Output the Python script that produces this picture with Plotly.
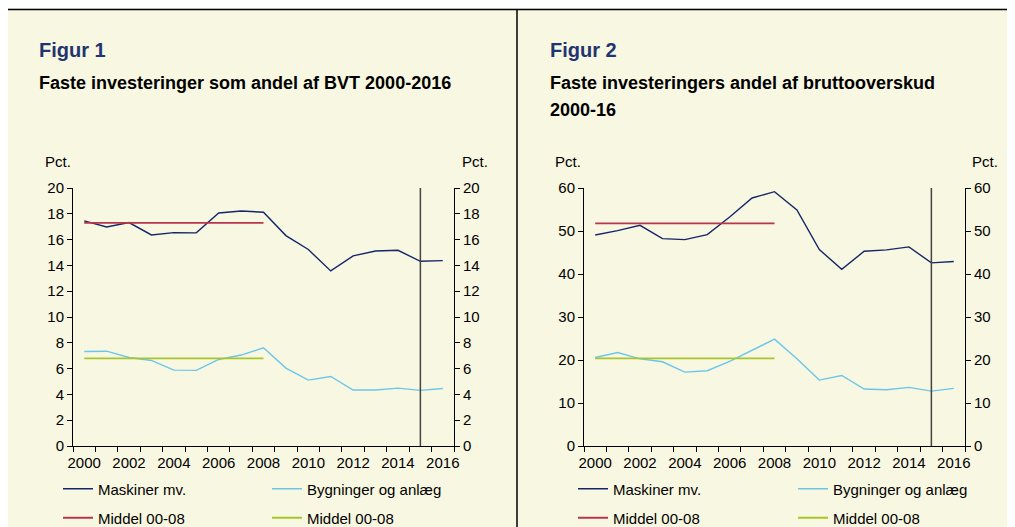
import plotly.graph_objects as go

W, H = 1030, 540

years = list(range(2000, 2017))
mid_years = list(range(2000, 2009))

# Figur 1: share of BVT (pct.)
f1_maskiner = [17.45, 16.98, 17.32, 16.36, 16.54, 16.52, 18.06, 18.22, 18.12,
               16.31, 15.23, 13.57, 14.74, 15.12, 15.17, 14.32, 14.37]
f1_bygninger = [7.33, 7.35, 6.86, 6.63, 5.88, 5.86, 6.71, 7.05, 7.61,
                6.04, 5.11, 5.39, 4.34, 4.34, 4.49, 4.31, 4.46]
f1_middel_mask = 17.29
f1_middel_byg = 6.79

# Figur 2: share of bruttooverskud (pct.)
f2_maskiner = [49.08, 50.09, 51.33, 48.23, 48.0, 49.16, 53.26, 57.68, 59.15,
               54.89, 45.68, 41.11, 45.29, 45.6, 46.3, 42.58, 42.89]
f2_bygninger = [20.59, 21.75, 20.28, 19.59, 17.19, 17.5, 19.66, 22.3, 24.85,
                20.28, 15.33, 16.41, 13.24, 13.08, 13.63, 12.77, 13.39]
f2_middel_mask = 51.79
f2_middel_byg = 20.36

xtick_vals = list(range(2000, 2017, 2))
xtick_text = [str(v) for v in xtick_vals]
f1_yticks = list(range(0, 21, 2))
f2_yticks = list(range(0, 61, 10))
marker_year = 2015

titles = [("Figur 1", ["Faste investeringer som andel af BVT 2000-2016"]),
          ("Figur 2", ["Faste investeringers andel af bruttooverskud", "2000-16"])]

names = ["Maskiner mv.", "Bygninger og anlæg", "Middel 00-08", "Middel 00-08"]

C_MASK = "#15266b"
C_BYG = "#6cc6ec"
C_RED = "#b8354a"
C_GREEN = "#a8c62a"
BG = "#f8f7e1"
FONT = "Liberation Sans, Arial, sans-serif"

OFF = 8  # page offset of the figure (body margin)

def px(x):
    return (x - OFF) / W

def py(y):
    return 1 - (y - OFF) / H

fig = go.Figure()

panels = [
    dict(x0=73, x1=454, mask=f1_maskiner, byg=f1_bygninger, mm=f1_middel_mask,
         mb=f1_middel_byg, yticks=f1_yticks, ymax=20, xa="x", ya="y", ya2="y2",
         leg_x=[58, 267], pct=[43, 460], tx=37),
    dict(x0=584, x1=965, mask=f2_maskiner, byg=f2_bygninger, mm=f2_middel_mask,
         mb=f2_middel_byg, yticks=f2_yticks, ymax=60, xa="x2", ya="y3", ya2="y4",
         leg_x=[573, 793], pct=[553, 970], tx=548),
]

ydom = [py(446), py(188)]
legend_rows = [489, 518]
legend_layouts = {}
li = 0
for pi, p in enumerate(panels):
    series = [
        (years, p["mask"], C_MASK, 1.4),
        (years, p["byg"], C_BYG, 1.4),
        (mid_years, [p["mm"]] * len(mid_years), C_RED, 1.8),
        (mid_years, [p["mb"]] * len(mid_years), C_GREEN, 1.8),
    ]
    for si, (xs, ys, col, lw) in enumerate(series):
        li += 1
        lname = "legend" if li == 1 else f"legend{li}"
        fig.add_trace(go.Scatter(x=xs, y=ys, mode="lines", name=names[si],
                                 line=dict(color=col, width=lw),
                                 xaxis=p["xa"], yaxis=p["ya"], legend=lname,
                                 showlegend=True))
        col_i = si % 2
        row_i = si // 2
        legend_layouts[lname] = dict(
            x=px(p["leg_x"][col_i]), y=py(legend_rows[row_i]),
            xanchor="left", yanchor="middle", bgcolor="rgba(0,0,0,0)",
            font=dict(family=FONT, size=15, color="#000000"),
            itemwidth=30)
    # invisible trace for the right axis
    fig.add_trace(go.Scatter(x=years, y=p["mask"], mode="lines", opacity=0,
                             showlegend=False, hoverinfo="skip",
                             xaxis=p["xa"], yaxis=p["ya2"]))
    # vertical marker
    fig.add_shape(type="line", xref=p["xa"], yref=f"{p['ya']} domain",
                  x0=marker_year, x1=marker_year, y0=0, y1=1,
                  line=dict(color="#444444", width=1.5))

axis_common = dict(showgrid=False, zeroline=False, showline=True,
                   linecolor="#000000", linewidth=1,
                   tickfont=dict(family=FONT, size=15, color="#000000"))

layout = dict(
    width=W, height=H,
    margin=dict(l=0, r=0, t=0, b=0, autoexpand=False),
    paper_bgcolor=BG, plot_bgcolor="rgba(0,0,0,0)",
    font=dict(family=FONT, size=15, color="#000000"),
    showlegend=True,
)
for pi, p in enumerate(panels):
    xkey = "xaxis" if p["xa"] == "x" else "xaxis2"
    layout[xkey] = dict(
        domain=[px(p["x0"]), px(p["x1"])], range=[1999.5, 2016.5],
        anchor=p["ya"], tickmode="array", tickvals=xtick_vals, ticktext=xtick_text,
        ticks="", ticklabelstandoff=3,
        minor=dict(tickmode="linear", tick0=1999.5, dtick=1,
                   ticks="outside", ticklen=5, tickcolor="#000000",
                   showgrid=False),
        **axis_common)
    ya_key = "yaxis" if p["ya"] == "y" else "yaxis3"
    ya2_key = "yaxis2" if p["ya2"] == "y2" else "yaxis4"
    layout[ya_key] = dict(domain=ydom, range=[0, p["ymax"]], anchor=p["xa"],
                          tickmode="array", tickvals=p["yticks"], ticks="outside",
                          ticklen=5, tickcolor="#000000", **axis_common)
    layout[ya2_key] = dict(domain=ydom, range=[0, p["ymax"]], anchor=p["xa"],
                           overlaying=p["ya"], side="right",
                           tickmode="array", tickvals=p["yticks"], ticks="outside",
                           ticklen=5, tickcolor="#000000", **axis_common)
layout.update(legend_layouts)
fig.update_layout(**layout)

# borders
fig.add_shape(type="line", xref="paper", yref="paper", x0=0, x1=1,
              y0=py(9.5), y1=py(9.5), line=dict(color="#000000", width=1.5))
fig.add_shape(type="line", xref="paper", yref="paper", x0=px(517), x1=px(517),
              y0=0, y1=py(9.5), line=dict(color="#000000", width=1.5))

# titles
for pi, p in enumerate(panels):
    fig_label, sub_lines = titles[pi]
    fig.add_annotation(xref="paper", yref="paper", x=px(p["tx"]), y=py(50),
                       xanchor="left", yanchor="middle", showarrow=False,
                       text=f"<b>{fig_label}</b>",
                       font=dict(family=FONT, size=20, color="#1f3470"))
    for k, line in enumerate(sub_lines):
        fig.add_annotation(xref="paper", yref="paper", x=px(p["tx"]),
                           y=py(83 + 27 * k), xanchor="left", yanchor="middle",
                           showarrow=False, text=f"<b>{line}</b>",
                           font=dict(family=FONT, size=18, color="#000000"))
    for xx in p["pct"]:
        fig.add_annotation(xref="paper", yref="paper", x=px(xx), y=py(161),
                           xanchor="left", yanchor="middle", showarrow=False,
                           text="Pct.",
                           font=dict(family=FONT, size=15, color="#000000"))

fig.write_html("out.html",
               post_script="document.documentElement.style.overflow='hidden';")
